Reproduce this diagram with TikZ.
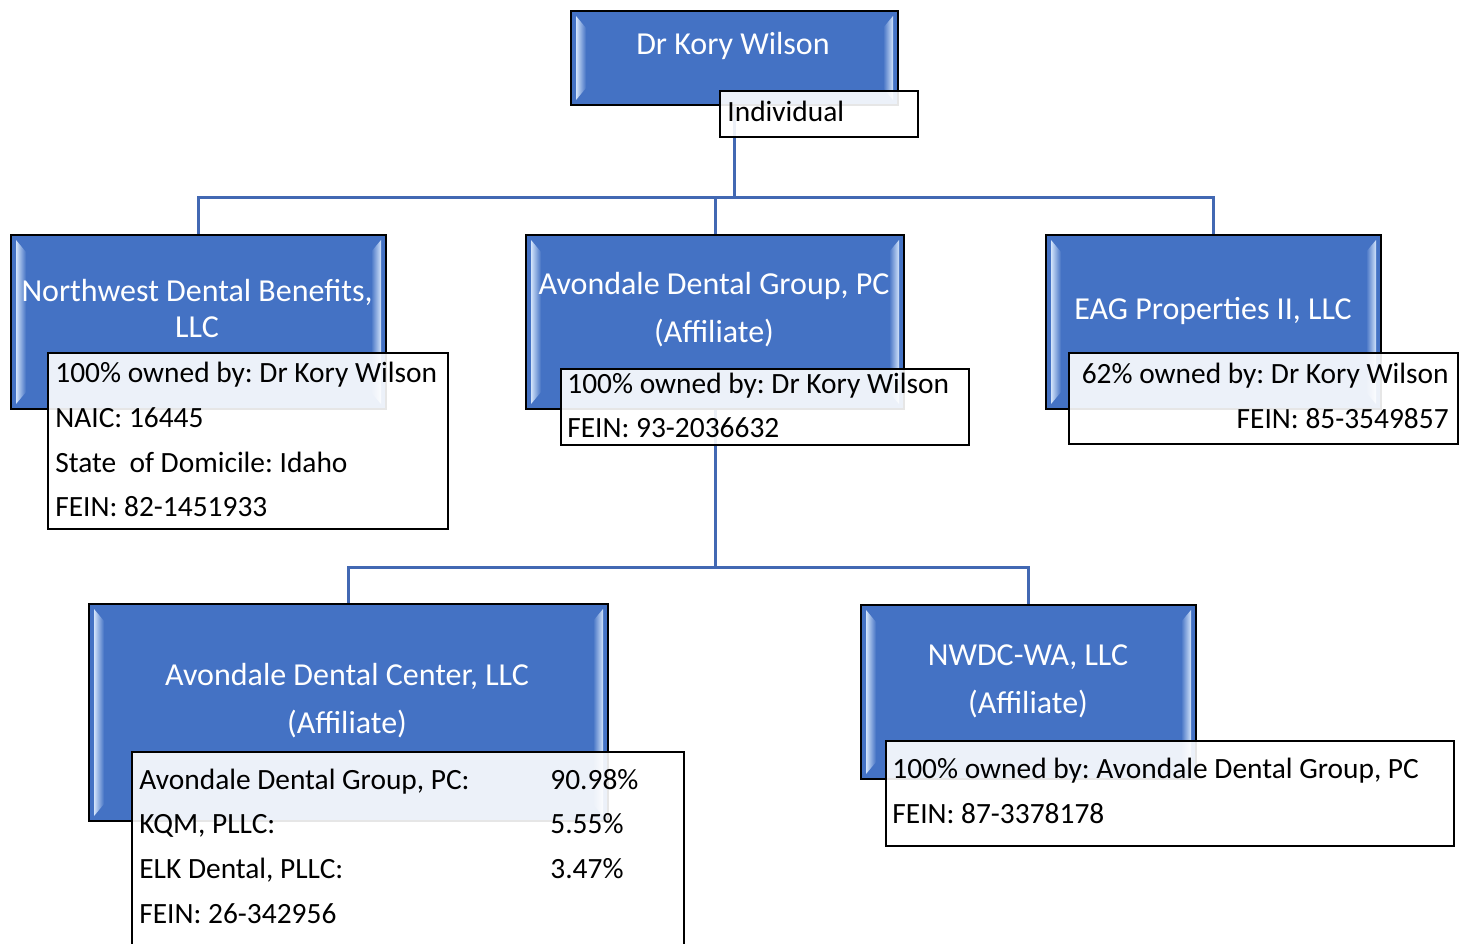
\documentclass[tikz,border=0pt]{standalone}
\usepackage{fontspec}
\setmainfont{Carlito}
\frenchspacing
\usetikzlibrary{calc}
\definecolor{unitblue}{HTML}{4472C4}
\definecolor{bevelhi}{HTML}{D2E3FA}
\definecolor{linkblue}{HTML}{4268B3}
\tikzset{
  unit/.style={draw=black, line width=1pt, fill=unitblue, anchor=north west, inner sep=0pt},
  info/.style={draw=black, line width=1pt, fill=white, fill opacity=0.9, anchor=north west, inner sep=0pt},
  link/.style={draw=linkblue, line width=1.5pt},
  unittext/.style={text=white, font=\fontsize{16}{19}\selectfont, anchor=base, inner sep=0pt},
  infotext/.style={text=black, font=\fontsize{14.7}{17}\selectfont, anchor=base west, inner sep=0pt}
}
\def\bevel(#1){%
  \shade[left color=bevelhi, right color=unitblue] ($(#1.north west)+(6,6)$) -- ($(#1.north west)+(16,18)$) -- ($(#1.south west)+(16,-18)$) -- ($(#1.south west)+(6,-6)$) -- cycle;
  \shade[left color=unitblue, right color=bevelhi] ($(#1.north east)+(-6,6)$) -- ($(#1.north east)+(-16,18)$) -- ($(#1.south east)+(-16,-18)$) -- ($(#1.south east)+(-6,-6)$) -- cycle;}

\begin{document}
\begin{tikzpicture}[x=0.5pt, y=-0.5pt]
		%%%%% FRAME %%%%%
		\useasboundingbox (0, 0) rectangle (1467, 943);
		
		\node[unit, minimum width=163.5pt, minimum height=47pt] (kory) at (570, 10) {};
		\node[unit, minimum width=187.5pt, minimum height=87pt] (ndb) at (10, 234) {};
		\node[unit, minimum width=189pt, minimum height=87pt] (adg) at (525, 234) {};
		\node[unit, minimum width=167.5pt, minimum height=87pt] (eag) at (1045, 234) {};
		\node[unit, minimum width=259.5pt, minimum height=108.5pt] (adc) at (88, 603) {};
		\node[unit, minimum width=167.5pt, minimum height=87pt] (nwdc) at (860, 604) {};
		
		%%%%% LINKS %%%%%
		\draw[link] (kory.south) -- ++(0, 91) -| (ndb.north);
		\draw[link] (kory.south) ++(0, 91) -| (adg.north);
		\draw[link] (kory.south) ++(0, 91) -| (eag.north);
		\draw[link] (adg.south) -- ++(0, 157) -| (adc.north);
		\draw[link] (adg.south) ++(0, 157) -| (nwdc.north);
		
		\bevel(kory)
		\bevel(ndb)
		\bevel(adg)
		\bevel(eag)
		\bevel(adc)
		\bevel(nwdc)
		
		%%%%% INFO BOXES %%%%%
		\node[info, minimum width=99pt, minimum height=23pt] (indiv) at (719, 90) {};
		\node[info, minimum width=200pt, minimum height=88pt] (ndbInfo) at (47, 352) {};
		\node[info, minimum width=204pt, minimum height=38pt] (adgInfo) at (560, 368) {};
		\node[info, minimum width=194.5pt, minimum height=45.5pt] (eagInfo) at (1068, 352) {};
		\node[info, minimum width=276pt, minimum height=100pt] (adcInfo) at (131, 751) {};
		\node[info, minimum width=284pt, minimum height=52.5pt] (nwdcInfo) at (885, 740) {};
		
		%%%%% TEXTS %%%%%
		\node[unittext] (koryT) at (733, 54) {Dr Kory Wilson};
		\node[infotext] (indivT) at (727, 121) {Individual};
		
		\node[unittext] (ndbT1) at (197, 301) {Northwest Dental Benefits,};
		\node[unittext] (ndbT2) at (197, 337) {LLC};
		\node[infotext] (ndbL1) at (55, 382) {100\% owned by: Dr Kory Wilson};
		\node[infotext] (ndbL2) at (55, 427) {NAIC: 16445};
		\node[infotext] (ndbL3) at (55, 472) {State\ \ of Domicile: Idaho};
		\node[infotext] (ndbL4) at (55, 516) {FEIN: 82-1451933};
		
		\node[unittext] (adgT1) at (714, 294) {Avondale Dental Group, PC};
		\node[unittext] (adgT2) at (714, 342) {(Affiliate)};
		\node[infotext] (adgL1) at (567, 393) {100\% owned by: Dr Kory Wilson};
		\node[infotext] (adgL2) at (567, 437) {FEIN: 93-2036632};
		
		\node[unittext] (eagT) at (1213, 319) {EAG Properties II, LLC};
		\node[infotext, anchor=base east] (eagL1) at (1449, 383) {62\% owned by: Dr Kory Wilson};
		\node[infotext, anchor=base east] (eagL2) at (1449, 428) {FEIN: 85-3549857};
		
		\node[unittext] (adcT1) at (347, 685) {Avondale Dental Center, LLC};
		\node[unittext] (adcT2) at (347, 733) {(Affiliate)};
		\node[infotext] (adcL1) at (139, 789) {Avondale Dental Group, PC:};
		\node[infotext] (adcP1) at (550, 789) {90.98\%};
		\node[infotext] (adcL2) at (139, 833) {KQM, PLLC:};
		\node[infotext] (adcP2) at (550, 833) {5.55\%};
		\node[infotext] (adcL3) at (139, 878) {ELK Dental, PLLC:};
		\node[infotext] (adcP3) at (550, 878) {3.47\%};
		\node[infotext] (adcL4) at (139, 923) {FEIN: 26-342956};
		
		\node[unittext] (nwdcT1) at (1028, 665) {NWDC-WA, LLC};
		\node[unittext] (nwdcT2) at (1028, 713) {(Affiliate)};
		\node[infotext] (nwdcL1) at (892, 778) {100\% owned by: Avondale Dental Group, PC};
		\node[infotext] (nwdcL2) at (892, 823) {FEIN: 87-3378178};
		
		%%%%% END %%%%%
	\end{tikzpicture}
\end{document}
